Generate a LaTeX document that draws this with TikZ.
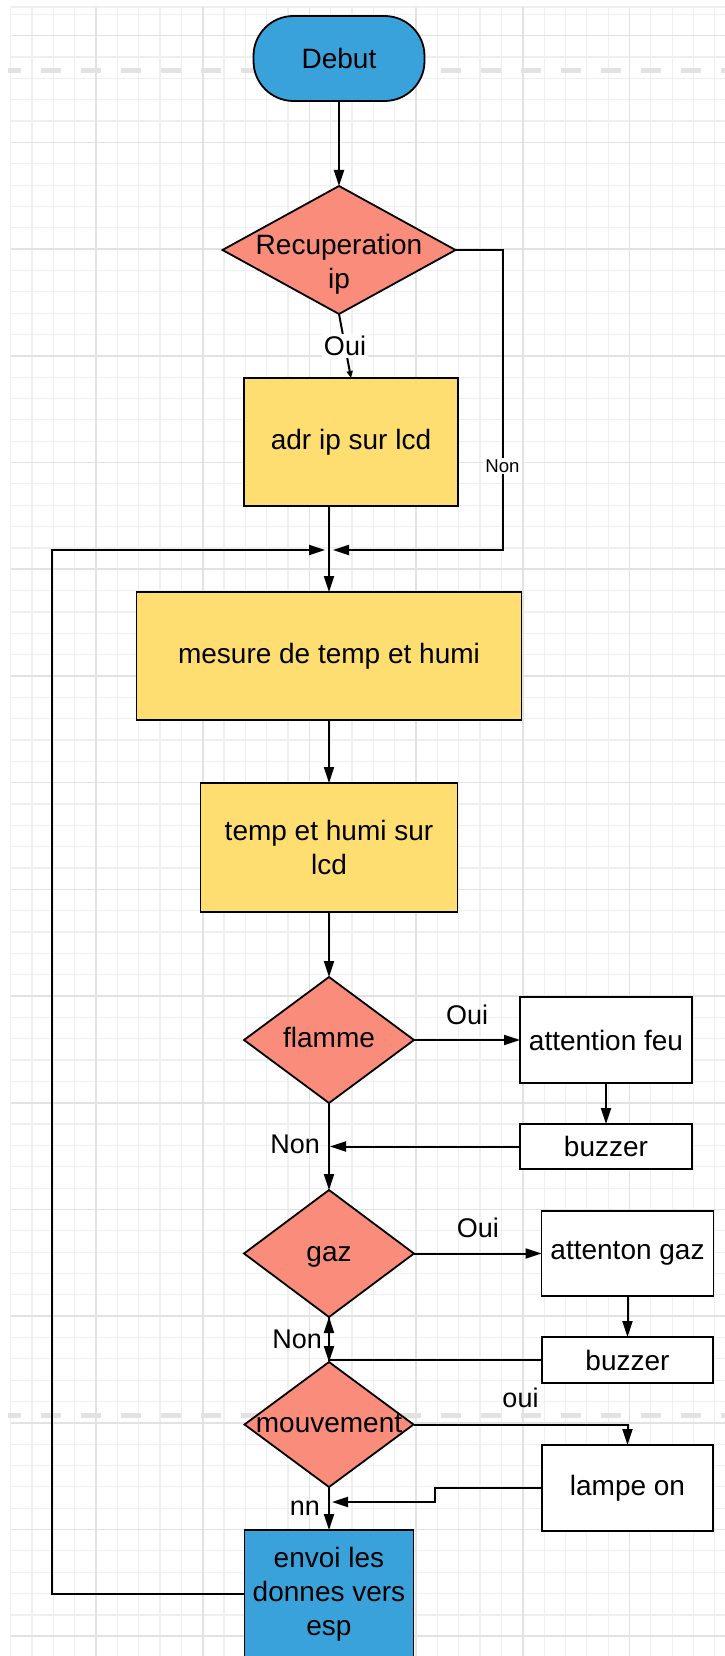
\documentclass[tikz,border=0pt]{standalone}
\usepackage{fontspec}
\setmainfont{Liberation Sans}
\usetikzlibrary{arrows.meta,positioning,shapes.geometric}
\definecolor{lucidblue}{HTML}{3AA2DB}
\definecolor{lucidyellow}{HTML}{FFDE71}
\definecolor{lucidred}{HTML}{FA8C7C}
\definecolor{gridminor}{HTML}{EFEFEF}
\definecolor{gridmajor}{HTML}{E2E2E2}
\tikzset{
    shapebox/.style = {draw, line width=1.8pt, font=\fontsize{28}{34}\selectfont,
                 align=center, inner sep=0pt, outer sep=0pt},
    terminal/.style = {shapebox, fill=lucidblue, rounded corners=40pt},
    process/.style = {shapebox, fill=lucidyellow},
    decision/.style = {shapebox, diamond, fill=lucidred},
    action/.style = {shapebox, fill=white},
    sendbox/.style = {shapebox, fill=lucidblue},
    lbl/.style = {font=\fontsize{27}{32}\selectfont, inner sep=2pt},
    lblsmall/.style = {font=\fontsize{18.6}{22}\selectfont, fill=white, inner sep=2pt},
    pagebreak/.style = {gridmajor, line width=5pt, dash pattern=on 20pt off 20pt, dash phase=7.3pt},
}
% texte d'un losange, sans influence sur sa taille
\newcommand{\dtxt}[2][-7pt]{\makebox[0pt]{\smash{\raisebox{#1}{\begin{tabular}{@{}c@{}}#2\end{tabular}}}}}

\begin{document}
\begin{tikzpicture}[x=1pt, y=-1pt, >={Triangle[length=16pt,width=10pt]}, line width=2pt]
 \useasboundingbox (0,0) rectangle (725,1656);
 \clip (0,0) rectangle (725,1656);
 \fill[white] (0,0) rectangle (725,1656);
 % grille
 \foreach \i in {0,...,33}
   \draw[gridminor, line width=1.2pt] ({10.6+21.34*\i},7) -- ({10.6+21.34*\i},1656);
 \foreach \j in {0,...,76}
   \draw[gridminor, line width=1.2pt] (10.6,{14.4+21.34*\j}) -- (725,{14.4+21.34*\j});
 \draw[gridminor, line width=1.2pt] (10.6,7) -- (725,7);
 \foreach \i in {1,...,6}
   \draw[gridmajor, line width=1.6pt] ({-10.7+106.7*\i},7) -- ({-10.7+106.7*\i},1656);
 \foreach \j in {0,...,15}
   \draw[gridmajor, line width=1.6pt] (10.6,{35.7+106.7*\j}) -- (725,{35.7+106.7*\j});
 \draw[pagebreak] (8,71) -- (725,71);
 \draw[pagebreak] (8,1415) -- (725,1415);

 \node (debut) [terminal, minimum width=171pt, minimum height=85pt] at (339,58.5) {Debut};
 \node (recup) [decision, minimum width=233pt, minimum height=128pt, below=85pt of debut] {\dtxt[-21pt]{Recuperation\\ip}};
 \node (adr) [process, minimum width=214pt, minimum height=128pt, below=64pt of recup, xshift=12pt] {adr ip sur lcd};
 \node (mesure) [process, minimum width=385pt, minimum height=128pt, below=86pt of adr, xshift=-22pt] {mesure de temp et humi};
 \node (temp) [process, minimum width=257pt, minimum height=129pt, below=63pt of mesure] {temp et humi sur\\lcd};
 \node (flamme) [decision, minimum width=170pt, minimum height=126pt, below=65pt of temp] {\dtxt{flamme}};
 \node (feu) [action, minimum width=172pt, minimum height=86pt, right=106pt of flamme] {attention feu};
 \node (buz1) [action, minimum width=172pt, minimum height=45pt, below=41pt of feu] {buzzer};
 \node (gaz) [decision, minimum width=170pt, minimum height=127pt, below=87pt of flamme] {\dtxt{gaz}};
 \node (attgaz) [action, minimum width=172pt, minimum height=85pt, right=127.5pt of gaz] {attenton gaz};
 \node (buz2) [action, minimum width=171pt, minimum height=46pt, below=41pt of attgaz] {buzzer};
 \node (mouv) [decision, minimum width=169pt, minimum height=125pt, below=45pt of gaz] {\dtxt{mouvement}};
 \node (lampe) [action, minimum width=171pt, minimum height=86pt, below=62pt of buz2] {lampe on};
 \node (envoi) [sendbox, minimum width=169pt, minimum height=128pt, below=43pt of mouv] {envoi les\\donnes vers\\esp};

 \coordinate (join) at ([yshift=42pt]mesure.north);

 \draw[->] (debut) -- (recup);
 \draw[->, >={Triangle[length=7pt,width=6pt]}] (recup.south) -- node[lbl, fill=white] {Oui} (adr.north);
 \draw[->, shorten >=4pt] (recup.east) -- ++(47,0) |- node[lblsmall, pos=0.36] {Non} (join);
 \draw[->] (adr.south -| mesure.north) -- (mesure.north);
 \draw[->, shorten >=4pt] (envoi.west) -- ++(-193,0) |- (join);
 \draw[->] (mesure) -- (temp);
 \draw[->] (temp) -- (flamme);
 \draw[->] (flamme) -- node[lbl, above=12pt] {Oui} (feu);
 \draw[->] (feu) -- (buz1);
 \draw[->, shorten >=1pt] (buz1.west) -- (buz1.west -| flamme.south);
 \draw[->] (flamme) -- node[lbl, left=6pt, pos=0.48] {Non} (gaz);
 \draw[->] (gaz) -- node[lbl, above=13pt] {Oui} (attgaz);
 \draw[->] (attgaz) -- (buz2);
 \draw[->] (buz2.west) -| (gaz.south);
 \draw[->] (gaz) -- node[lbl, left=4pt] {Non} (mouv);
 \draw[->] (mouv.east) -| node[lbl, above=14pt, pos=0.25] {oui} (lampe.north);
 \draw[->, shorten >=3pt] (lampe.west) -- ++(-107,0) |- ([yshift=28pt]envoi.north);
 \draw[->] (mouv) -- node[lbl, left=6pt] {nn} (envoi);
\end{tikzpicture}
\end{document}
